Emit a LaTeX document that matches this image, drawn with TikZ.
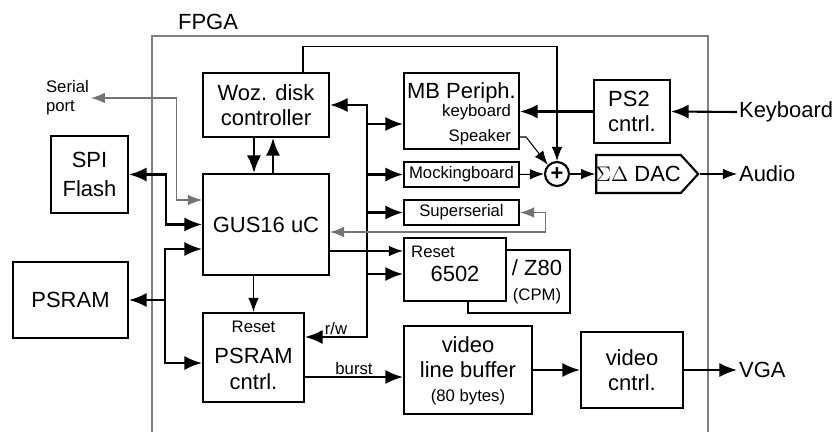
\documentclass[tikz,border=0pt]{standalone}
\usepackage{fontspec}
\setmainfont{Liberation Sans}
\usetikzlibrary{arrows.meta, positioning, shapes.symbols}

\begin{document}
\begin{tikzpicture}[x=0.02cm, y=-0.02cm,
    blk/.style={draw, fill=white, line width=1.2pt, inner sep=0pt, align=center, font=\fontsize{12.5}{14.5}\selectfont},
    smallblk/.style={blk, font=\fontsize{9.5}{11}\selectfont},
    big/.style={inner sep=1pt, font=\fontsize{12.5}{14.5}\selectfont},
    lbl/.style={inner sep=1pt, font=\fontsize{9.5}{11}\selectfont},
    bus/.style={line width=1.2pt, >={Latex[length=10pt, width=8pt]}},
    wire/.style={line width=0.6pt, >={Latex[length=8pt, width=6pt]}},
    gwire/.style={wire, draw=black!55}]
    \useasboundingbox (0,0) rectangle (837,432);

    % FPGA boundary
    \draw[black!50, line width=0.7pt] (152,432) -- (152,36) -- (708,36) -- (708,432);
    \node[big] (fpga) at (208,22) {FPGA};

    % off-chip parts
    \node[blk, minimum width=1.54cm, minimum height=1.54cm] (spi) at (89.5,174.5) {SPI\\[2pt]Flash};
    \node[blk, minimum width=2.3cm, minimum height=1.52cm] (psram) at (70.5,300) {PSRAM};
    \node[lbl, align=left, anchor=west] (serial) at (44,98) {Serial\\port};
    \node[big, anchor=west] (kbd) at (737,112) {Keyboard};
    \node[big, anchor=west] (audio) at (737,174) {Audio};
    \node[big, anchor=west] (vga) at (737,370) {VGA};

    % controller, disk and memory
    \node[blk, minimum width=2.52cm, minimum height=1.28cm] (woz) at (266,105) {Woz. disk\\controller};
    \node[blk, minimum width=2.52cm, minimum height=2.02cm] (gus) at (266,224.5) {GUS16 uC};
    \node[blk, minimum width=2.02cm, minimum height=1.78cm] (pctl) at (253.5,357.5) {};
    \node[lbl] (pctlrst) at (253.5,327) {Reset};
    \node[big, align=center] (pctltxt) at (253.5,369) {PSRAM\\cntrl.};

    % peripherals
    \node[blk, minimum width=2.3cm, minimum height=1.52cm] (mb) at (461.5,111) {};
    \node[big] (mbtxt) at (461.5,93) {MB Periph.};
    \node[lbl, anchor=east] (mbkey) at (513,112) {keyboard};
    \node[lbl, anchor=east] (mbspk) at (513,137) {Speaker};
    \node[smallblk, minimum width=2.3cm, minimum height=0.5cm] (mock) at (461.5,174.5) {Mockingboard};
    \node[smallblk, minimum width=2.3cm, minimum height=0.5cm] (sser) at (461.5,212.5) {Superserial};
    \node[blk, minimum width=2.04cm, minimum height=1.26cm] (z80) at (519,281.5) {};
    \node[big] (z80txt) at (537,268) {/ Z80};
    \node[lbl] (cpm) at (537,296) {(CPM)};
    \node[blk, minimum width=2.04cm, minimum height=1.26cm] (cpu) at (455,269.5) {};
    \node[lbl] (cpurst) at (433,252) {Reset};
    \node[big] (cputxt) at (455,274) {6502};

    % video path
    \node[blk, minimum width=2.56cm, minimum height=1.76cm] (lbuf) at (468,370) {};
    \node[big, align=center] (lbuftxt) at (468,357) {video\\line buffer};
    \node[lbl] (lbufsize) at (468,397) {(80 bytes)};
    \node[blk, minimum width=2.04cm, minimum height=1.52cm] (vctl) at (632,370) {video\\cntrl.};

    % keyboard and audio
    \node[blk, align=left, minimum width=1.52cm, minimum height=1.26cm] (ps2) at (632,111.5) {PS2\\cntrl.};
    \node[blk, circle, minimum size=0.48cm] (add) at (557,174) {\textbf{+}};
    \node[blk, signal, signal to=east, signal pointer angle=95,
          minimum width=1.78cm, minimum height=0.76cm] (dac) at (638.5,174) {$\Sigma\Delta$ DAC};

    % main bus
    \coordinate (bt) at (367,105);
    \coordinate (bb) at (367,337);
    \draw[bus, <->] (woz.east) -- (bt) -- (bb) -- (bb -| pctl.east) node[lbl, midway, above] {r/w};
    \foreach \t/\y in {mb/124, mock/174.5, sser/212.5, cpu/274}
        \draw[bus, ->] (367,\y) -- (\t.west |- 0,\y);

    % uC links
    \draw[bus, ->] ([xshift=-0.24cm]woz.south) -- ([xshift=-0.24cm]gus.north);
    \draw[bus, ->] ([xshift=0.14cm]gus.north) -- ([xshift=0.14cm]woz.south);
    \draw[bus, <->] (spi.east) -- ++(37,0) |- (gus.west);
    \coordinate (pj) at (165,300);
    \draw[bus, <-] (psram.east) -- (pj);
    \draw[bus, ->] (pj) |- (gus.west |- 0,249);
    \draw[bus, ->] (pj) |- (pctl.west |- 0,363);
    \draw[gwire, <->] (gus.west |- 0,200) -- ++(-25,0) |- (serial.east);
    \draw[gwire, <->] (sser.east) -- ++(25,0) |- (gus.east |- 0,232);
    \draw[wire, ->] (gus.east |- 0,251) -- (cpu.west |- 0,251);
    \draw[wire, ->] (gus.south -| pctl.north) -- (pctl.north);

    % video
    \draw[bus, ->] (pctl.east |- 0,377) -- (lbuf.west |- 0,377) node[lbl, midway, above] {burst};
    \draw[bus, ->] (lbuf.east) -- (vctl.west);
    \draw[bus, ->] (vctl.east) -- (vga.west);

    % keyboard and sound
    \draw[bus, ->] (kbd.west) -- (ps2.east);
    \draw[bus, ->] (ps2.west) -- (ps2.west -| mb.east);
    \draw[wire, ->] ([xshift=0.74cm]woz.north) -- ++(0,-25) -| (add.north);
    \draw[wire, ->] (mbspk.east -| mb.east) -- ++(6,0) -- (add.135);
    \draw[wire, ->] (mock.east) -- (add.west);
    \draw[wire, ->] (add.east) -- (dac.west);
    \draw[wire, ->] (dac.east) -- (audio.west);
\end{tikzpicture}
\end{document}
